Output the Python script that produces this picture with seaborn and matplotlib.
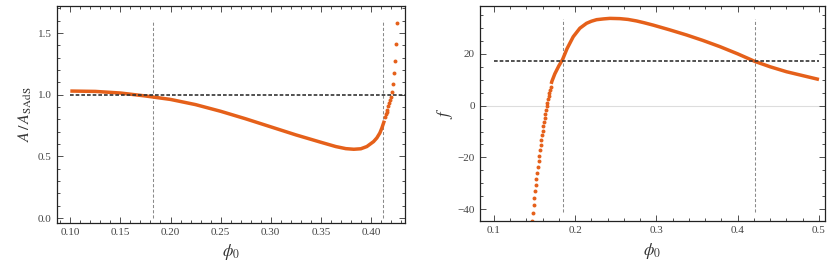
import matplotlib
matplotlib.use("Agg")
import matplotlib.pyplot as plt
import seaborn as sns
import pandas as pd
from matplotlib.ticker import MultipleLocator

# left panel: A / A_SAdS
area_x = [0.100, 0.125, 0.150, 0.175, 0.200, 0.225, 0.250, 0.275, 0.300, 0.325,
          0.350, 0.365, 0.375, 0.383, 0.390, 0.396, 0.4027, 0.406, 0.409, 0.411, 0.4135]
area_y = [1.030, 1.027, 1.014, 0.990, 0.962, 0.920, 0.866, 0.805, 0.740, 0.675,
          0.615, 0.580, 0.563, 0.558, 0.562, 0.580, 0.620, 0.650, 0.690, 0.730, 0.790]
area_dots_x = [0.4144, 0.4151, 0.4158, 0.4165, 0.4173, 0.4181, 0.4190, 0.4199,
               0.4210, 0.4224, 0.4236, 0.4245, 0.4254, 0.4266]
area_dots_y = [0.820, 0.840, 0.860, 0.880, 0.905, 0.930, 0.958, 0.985,
               1.022, 1.090, 1.173, 1.273, 1.408, 1.580]
area_marks = [0.1824, 0.4126]

# right panel: f
f_x = [0.1705, 0.1714, 0.175, 0.180, 0.1845, 0.190, 0.1976, 0.2058, 0.214, 0.220, 0.2264,
       0.235, 0.2428, 0.255, 0.265, 0.2756, 0.285, 0.296, 0.316, 0.337, 0.357,
       0.378, 0.400, 0.421, 0.440, 0.460, 0.480, 0.500]
f_y = [8.4, 9.4, 12.3, 15.4, 17.8, 22.0, 26.6, 29.9, 31.8, 32.6, 33.2,
       33.5, 33.7, 33.6, 33.3, 32.7, 32.0, 31.1, 29.3, 27.3, 25.2,
       22.8, 20.0, 17.1, 15.0, 13.1, 11.6, 10.1]
f_dots_x = [0.1464, 0.1476, 0.1488, 0.1496, 0.1505, 0.1513, 0.1521, 0.1529, 0.1542,
            0.1550, 0.1558, 0.1566, 0.1574, 0.1583, 0.1590, 0.1600, 0.1607, 0.1615,
            0.1624, 0.1632, 0.1640, 0.1649, 0.1656, 0.1665, 0.1673, 0.1680, 0.1690,
            0.1698]
f_dots_y = [-44.4, -41.3, -38.5, -35.7, -33.1, -30.6, -28.2, -25.9, -23.6,
            -21.4, -19.3, -17.3, -15.2, -13.3, -11.5, -9.7, -8.0, -6.3,
            -4.8, -3.2, -1.7, -0.3, 1.2, 2.4, 3.7, 5.0, 6.2,
            7.2]
f_marks = [0.1845, 0.4212]

area_ref = 1.0
f_ref = 17.1

orange = "#E5601A"
sns.set_style("ticks")
plt.rcParams["font.family"] = ["Liberation Serif", "DejaVu Serif"]
plt.rcParams["mathtext.fontset"] = "stix"

fig = plt.figure(figsize=(8.39, 2.70), dpi=100)
ax1 = fig.add_axes([0.0676, 0.174, 0.415, 0.804])
ax2 = fig.add_axes([0.572, 0.181, 0.411, 0.796])

df_a = pd.DataFrame({"x": area_x, "y": area_y})
df_ad = pd.DataFrame({"x": area_dots_x, "y": area_dots_y})
df_f = pd.DataFrame({"x": f_x, "y": f_y})
df_fd = pd.DataFrame({"x": f_dots_x, "y": f_dots_y})

# left
for xv in area_marks:
    ax1.plot([xv, xv], [0.0, 1.605], color="#8a8a8a", lw=0.75, ls=(0, (3, 2)), zorder=1)
ax1.plot([0.10, 0.434], [area_ref, area_ref], color="#333333", lw=1.2, ls=(0, (2.2, 1.2)), zorder=3)
sns.lineplot(data=df_a, x="x", y="y", ax=ax1, color=orange, lw=2.5, sort=False, zorder=2,
             solid_capstyle="butt")
sns.scatterplot(data=df_ad, x="x", y="y", ax=ax1, color=orange, s=8, linewidth=0, zorder=2)
ax1.set_xlim(0.0864, 0.434)
ax1.set_ylim(-0.04, 1.72)
ax1.xaxis.set_major_locator(MultipleLocator(0.05))
ax1.xaxis.set_minor_locator(MultipleLocator(0.01))
ax1.yaxis.set_major_locator(MultipleLocator(0.5))
ax1.yaxis.set_minor_locator(MultipleLocator(0.1))
ax1.xaxis.set_major_formatter(plt.FuncFormatter(lambda v, p: f"{v:.2f}"))
ax1.yaxis.set_major_formatter(plt.FuncFormatter(lambda v, p: f"{v:.1f}"))
ax1.set_xlabel(r"$\phi_0$", fontsize=12, color="#333333", labelpad=4)
ax1.set_ylabel(r"$A\,/\,A_{\mathrm{SAdS}}$", fontsize=11.5, color="#333333", labelpad=3)

# right
ax2.axhline(0, color="#dddddd", lw=0.8, zorder=0)
for xv in f_marks:
    ax2.plot([xv, xv], [-41.2, 33.4], color="#8a8a8a", lw=0.75, ls=(0, (3, 2)), zorder=1)
ax2.plot([0.10, 0.50], [f_ref, f_ref], color="#333333", lw=1.2, ls=(0, (2.2, 1.2)), zorder=3)
sns.lineplot(data=df_f, x="x", y="y", ax=ax2, color=orange, lw=2.5, sort=False, zorder=2,
             solid_capstyle="butt")
sns.scatterplot(data=df_fd, x="x", y="y", ax=ax2, color=orange, s=8, linewidth=0, zorder=2)
ax2.set_xlim(0.0828, 0.5071)
ax2.set_ylim(-44.6, 38.4)
ax2.xaxis.set_major_locator(MultipleLocator(0.1))
ax2.xaxis.set_minor_locator(MultipleLocator(0.02))
ax2.yaxis.set_major_locator(MultipleLocator(20))
ax2.yaxis.set_minor_locator(MultipleLocator(5))
ax2.xaxis.set_major_formatter(plt.FuncFormatter(lambda v, p: f"{v:.1f}"))
ax2.yaxis.set_major_formatter(plt.FuncFormatter(lambda v, p: f"{v:.0f}".replace("-", "\u2212")))
ax2.set_xlabel(r"$\phi_0$", fontsize=12, color="#333333", labelpad=4)
ax2.set_ylabel(r"$f$", fontsize=12, color="#333333", labelpad=2)

for ax in (ax1, ax2):
    for sp in ax.spines.values():
        sp.set_visible(True)
        sp.set_color("#222222")
        sp.set_linewidth(0.9)
    ax.tick_params(which="both", direction="in", top=True, right=True,
                   labelsize=8, labelcolor="#444444", color="#333333", width=0.6)
    ax.tick_params(which="major", length=4)
    ax.tick_params(which="minor", length=2)

fig.savefig("out.png", dpi=100)
